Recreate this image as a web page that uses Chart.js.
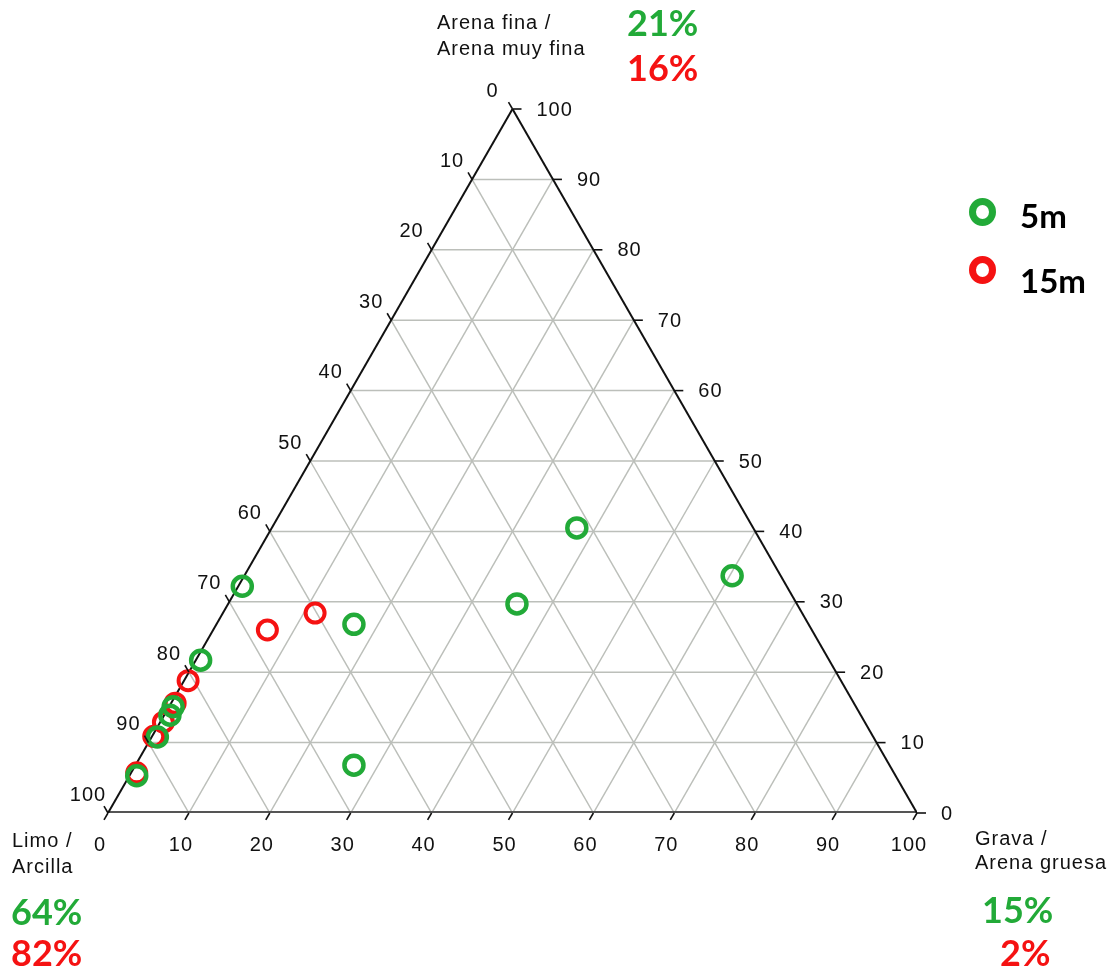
<!DOCTYPE html>
<html lang="es">
<head>
<meta charset="utf-8">
<title>Diagrama ternario de sedimentos</title>
<script src="https://cdn.jsdelivr.net/npm/chart.js@4.4.1/dist/chart.umd.min.js"></script>
<style>
  html, body { margin: 0; padding: 0; background: #ffffff; }
  #wrap { position: relative; width: 1117px; height: 970px; overflow: hidden; }
  #chart { position: absolute; left: 0; top: 0; }
  .lbl { position: absolute; white-space: nowrap; font-family: "Liberation Sans", Arial, sans-serif; color: #111; }
  .ax { font-size: 20px; line-height: 26px; letter-spacing: 1px; }
  .pct { font-family: Lato, "Open Sans", sans-serif; font-weight: 700; font-size: 36px; line-height: 40px; }
  .leg { font-family: Lato, "Open Sans", sans-serif; font-weight: 700; font-size: 33px; line-height: 36px; color: #000; }
  .dot { position: absolute; width: 13px; height: 14px; border-radius: 50%; border-style: solid; border-width: 7px; }
</style>
</head>
<body>
<div id="wrap">
  <canvas id="chart" width="1117" height="970"></canvas>
</div>
<script>
// Vértices del diagrama ternario
const vertexNames = ['Limo / Arcilla', 'Arena fina / Arena muy fina', 'Grava / Arena gruesa'];
const seriesNames = ['5m', '15m'];
const seriesColors = ['#22aa38', '#f51212'];

// Muestras a 5 m (porcentajes de grava y de arena fina; el resto es limo/arcilla)
const grava5 = [37.7, 60.3, 35.7, 17.0, 0.5, 0.6, 27.0, 0.5, 0.7, 0.7, 0.9];
const arena5 = [40.5, 33.7, 29.7, 26.8, 32.2, 21.7, 6.8, 15.1, 13.9, 10.8, 5.3];

// Muestras a 15 m
const grava15 = [11.4, 6.7, 0.5, 0.5, 0.4, 0.2, 0.7];
const arena15 = [28.4, 26.0, 18.8, 15.6, 12.9, 10.9, 5.7];

// Valores medios por profundidad (5m, 15m)
const limoMedia = [64, 82];
const arenaMedia = [21, 16];
const gravaMedia = [15, 2];

// Marcas de los ejes
const tickValues = [0, 10, 20, 30, 40, 50, 60, 70, 80, 90, 100];
const gridValues = [10, 20, 30, 40, 50, 60, 70, 80, 90];

// Composición (grava, arena) -> coordenadas cartesianas del triángulo
function tern(g, a) { return { x: g + a / 2, y: a }; }

function seg(p, q, color, width, order) {
  return {
    type: 'scatter', data: [p, q], showLine: true, borderColor: color, borderWidth: width,
    pointRadius: 0, pointHoverRadius: 0, fill: false, order: order, tension: 0
  };
}

const datasets = [];

// Puntos de muestra (verde encima del rojo)
datasets.push({
  type: 'scatter', label: seriesNames[0],
  data: grava5.map((g, i) => tern(g, arena5[i])),
  pointStyle: 'circle', pointRadius: 9.5, pointBorderWidth: 4.5,
  borderColor: seriesColors[0], backgroundColor: 'rgba(0,0,0,0)', order: 0
});
datasets.push({
  type: 'scatter', label: seriesNames[1],
  data: grava15.map((g, i) => tern(g, arena15[i])),
  pointStyle: 'circle', pointRadius: 9.5, pointBorderWidth: 4,
  borderColor: seriesColors[1], backgroundColor: 'rgba(0,0,0,0)', order: 1
});

// Bordes del triángulo
datasets.push(seg(tern(0, 0), tern(0, 100), '#111111', 2, 2));
datasets.push(seg(tern(100, 0), tern(0, 100), '#111111', 2, 2));
datasets.push(seg(tern(0, 0), tern(100, 0), '#555555', 4, 2));

// Retícula: arena constante, grava constante, limo constante
const gridColor = '#bcbfba';
gridValues.forEach(k => {
  datasets.push(seg(tern(0, k), tern(100 - k, k), gridColor, 1.5, 3));
  datasets.push(seg(tern(k, 0), tern(k, 100 - k), gridColor, 1.5, 3));
  datasets.push(seg(tern(100 - k, 0), tern(0, 100 - k), gridColor, 1.5, 3));
});

// Marcas y etiquetas de los tres ejes
const axisTicks = {
  id: 'axisTicks',
  afterDatasetsDraw(chart) {
    const ctx = chart.ctx, sx = chart.scales.x, sy = chart.scales.y;
    const px = p => [sx.getPixelForValue(p.x), sy.getPixelForValue(p.y)];
    ctx.save();
    ctx.strokeStyle = '#111';
    ctx.lineWidth = 1.6;
    ctx.fillStyle = '#111';
    ctx.font = '20px "Liberation Sans", Arial, sans-serif';
    ctx.letterSpacing = '1px';
    ctx.textBaseline = 'middle';
    const L = 8, c = 0.5, s = Math.sqrt(3) / 2;
    tickValues.forEach(v => {
      // eje inferior: grava
      let [x, y] = px(tern(v, 0));
      ctx.beginPath(); ctx.moveTo(x, y); ctx.lineTo(x - c * L, y + s * L); ctx.stroke();
      ctx.textAlign = 'center';
      ctx.fillText(String(v), x - 8, y + 32);
      // eje derecho: arena fina
      [x, y] = px(tern(100 - v, v));
      ctx.beginPath(); ctx.moveTo(x, y); ctx.lineTo(x + L + 1, y); ctx.stroke();
      ctx.textAlign = 'left';
      ctx.fillText(String(v), x + 24, y + 1);
      // eje izquierdo: limo / arcilla
      [x, y] = px(tern(0, 100 - v));
      ctx.beginPath(); ctx.moveTo(x, y); ctx.lineTo(x - c * L, y - s * L); ctx.stroke();
      ctx.textAlign = 'center';
      ctx.fillText(String(v), x - 20, y - 18);
    });
    ctx.restore();
  }
};

new Chart(document.getElementById('chart'), {
  type: 'scatter',
  data: { datasets },
  options: {
    responsive: false,
    animation: false,
    layout: { padding: { left: 108, right: 200, top: 109, bottom: 157 } },
    scales: {
      x: { type: 'linear', min: 0, max: 100, display: false },
      y: { type: 'linear', min: 0, max: 100, display: false }
    },
    plugins: { legend: { display: false }, tooltip: { enabled: false } },
    events: []
  },
  plugins: [axisTicks]
});

// Rótulos de vértices, medias y leyenda
const wrap = document.getElementById('wrap');
function addLabel(text, cls, left, cy, color, lh) {
  const d = document.createElement('div');
  d.className = 'lbl ' + cls;
  d.textContent = text;
  d.style.left = left + 'px';
  d.style.top = (cy - lh / 2) + 'px';
  if (color) d.style.color = color;
  wrap.appendChild(d);
}
const arenaParts = vertexNames[1].split(' / ');
addLabel(arenaParts[0] + ' /', 'ax', 437, 22, null, 26);
addLabel(arenaParts[1], 'ax', 437, 48, null, 26);
const limoParts = vertexNames[0].split(' / ');
addLabel(limoParts[0] + ' /', 'ax', 12, 840, null, 26);
addLabel(limoParts[1], 'ax', 12, 866, null, 26);
const gravaParts = vertexNames[2].split(' / ');
addLabel(gravaParts[0] + ' /', 'ax', 975, 838, null, 26);
addLabel(gravaParts[1], 'ax', 975, 862, null, 26);

addLabel(arenaMedia[0] + '%', 'pct', 627, 22, seriesColors[0], 40);
addLabel(arenaMedia[1] + '%', 'pct', 627, 67, seriesColors[1], 40);
addLabel(limoMedia[0] + '%', 'pct', 11, 911, seriesColors[0], 40);
addLabel(limoMedia[1] + '%', 'pct', 11, 952, seriesColors[1], 40);
addLabel(gravaMedia[0] + '%', 'pct', 982, 909, seriesColors[0], 40);
addLabel(gravaMedia[1] + '%', 'pct', 1000, 952, seriesColors[1], 40);

// Leyenda
[[212, 215], [270, 280]].forEach((pos, i) => {
  const dot = document.createElement('div');
  dot.className = 'dot';
  dot.style.borderColor = seriesColors[i];
  dot.style.left = (982 - 13) + 'px';
  dot.style.top = (pos[0] - 14) + 'px';
  wrap.appendChild(dot);
  addLabel(seriesNames[i], 'leg', 1020, pos[1], null, 36);
});
</script>
</body>
</html>
